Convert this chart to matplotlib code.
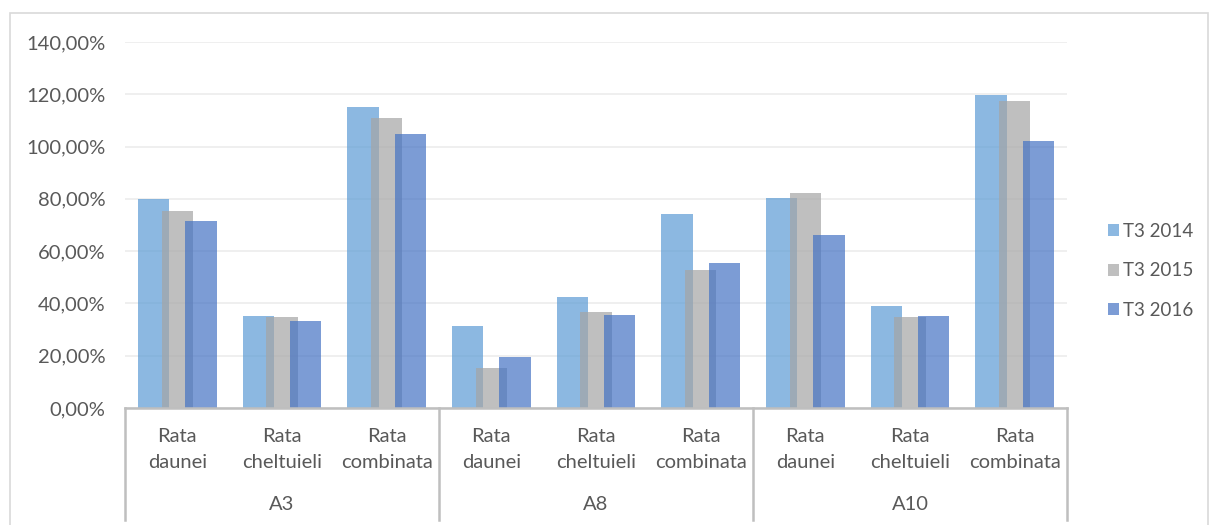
import matplotlib
matplotlib.use("Agg")
import matplotlib.pyplot as plt
from matplotlib.patches import Patch, Rectangle
from matplotlib.ticker import FuncFormatter
import matplotlib.transforms as mtransforms

# Data
groups = ["A3", "A8", "A10"]
indicators = [("Rata", "daunei"), ("Rata", "cheltuieli"), ("Rata", "combinata")]
series_names = ["T3 2014", "T3 2015", "T3 2016"]
t3_2014 = [80.0, 35.2, 115.3, 31.5, 42.3, 74.3, 80.2, 38.9, 119.7]
t3_2015 = [75.2, 35.0, 110.9, 15.4, 36.7, 52.7, 82.1, 34.7, 117.5]
t3_2016 = [71.4, 33.2, 105.0, 19.4, 35.6, 55.6, 66.3, 35.1, 102.0]
y_ticks = [0, 20, 40, 60, 80, 100, 120, 140]

colors = ["#5B9BD5", "#A5A5A5", "#4472C4"]
text_color = "#595959"
fs = 14.5

plt.rcParams["font.family"] = ["Lato", "DejaVu Sans"]

W, H = 1209, 525
fig = plt.figure(figsize=(W / 100, H / 100), dpi=100)
ax_top, ax_bot = 42, 408
ax = fig.add_axes([125 / W, 1 - ax_bot / H, (1067 - 125) / W, (ax_bot - ax_top) / H])

n = len(t3_2014)
xs = list(range(n))
width = 0.30
step = 0.227
for k, vals in enumerate([t3_2014, t3_2015, t3_2016]):
    off = (k - 1) * step
    ax.bar([x + off for x in xs], vals, width=width, color=colors[k], alpha=0.7,
           linewidth=0, zorder=3 + k)

ax.set_xlim(-0.5, n - 0.5)
ax.set_ylim(0, 140)
ax.set_yticks(y_ticks)
ax.yaxis.set_major_formatter(FuncFormatter(lambda v, p: f"{v:.2f}%".replace(".", ",")))
ax.tick_params(axis="y", length=0, labelsize=fs, labelcolor=text_color, pad=14)
ax.set_xticks([])
ax.grid(axis="y", color="#EEEEEE", linewidth=1.3, zorder=0)
for s in ["top", "right", "left"]:
    ax.spines[s].set_visible(False)
ax.spines["bottom"].set_color("#BFBFBF")
ax.spines["bottom"].set_linewidth(1.8)
ax.spines["bottom"].set_zorder(10)

# Two-level category axis
axh = ax_bot - ax_top
def yfrac(py):
    return -(py - ax_bot) / axh

trans = mtransforms.blended_transform_factory(ax.transData, ax.transAxes)
for i in range(n):
    first, second = indicators[i % 3]
    ax.text(i, yfrac(436), first, transform=trans, ha="center", va="center",
            fontsize=fs, color=text_color)
    ax.text(i, yfrac(462), second, transform=trans, ha="center", va="center",
            fontsize=fs, color=text_color)
for g, name in enumerate(groups):
    ax.text(g * 3 + 1, yfrac(504), name, transform=trans, ha="center", va="center",
            fontsize=fs, color=text_color)
for b in [-0.5, 2.5, 5.5, 8.5]:
    ax.plot([b, b], [0, yfrac(520)], transform=trans, color="#BFBFBF", linewidth=1.8,
            clip_on=False, zorder=10)

# Legend
handles = [Patch(facecolor=c, alpha=0.7, edgecolor="none") for c in colors]
fig.legend(handles, series_names, loc="center left",
           bbox_to_anchor=(1100 / W, 1 - 271 / H), frameon=False,
           fontsize=13.5, labelcolor=text_color, handlelength=0.6,
           handleheight=0.6, handletextpad=0.25, labelspacing=1.2,
           borderaxespad=0)

# Chart frame
fig.patches.append(Rectangle((10 / W, -0.05), (1208 - 10) / W, 1.05 - 13 / H,
                             transform=fig.transFigure, fill=False,
                             edgecolor="#D9D9D9", linewidth=1.2))

fig.savefig("out.png", dpi=100)
